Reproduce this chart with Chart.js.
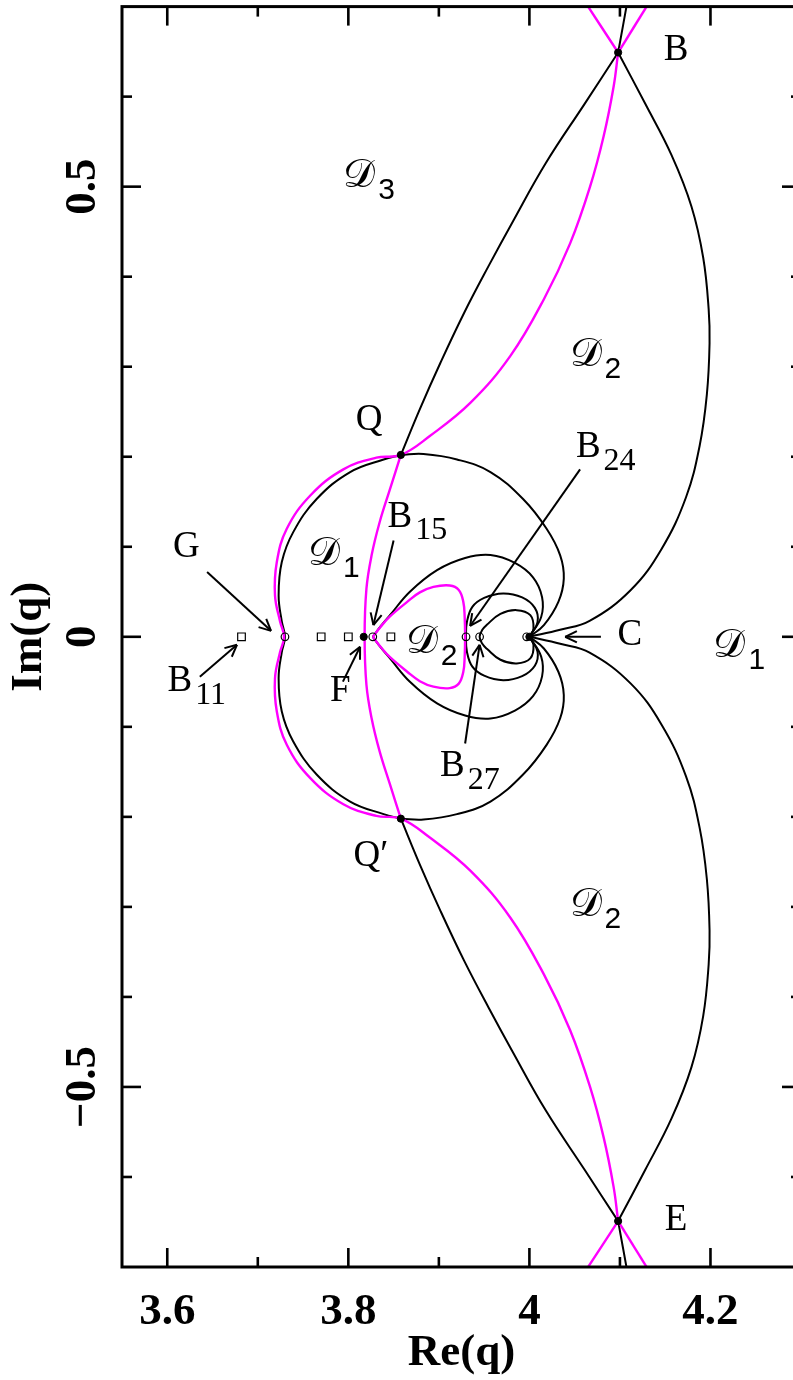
<!DOCTYPE html>
<html>
<head>
<meta charset="utf-8">
<script src="https://cdn.jsdelivr.net/npm/chart.js@4.4.1/dist/chart.umd.min.js"></script>
<style>
  html, body { margin: 0; padding: 0; background: #fff; overflow: hidden; }
  #wrap { width: 793px; height: 1380px; overflow: hidden; }
</style>
</head>
<body>
<div id="wrap"><canvas id="grafico" width="810" height="1380"></canvas></div>
<script>
// axis ticks
const xTickValues = [3.6, 3.8, 4.0, 4.2];
const xTickLabels = ['3.6', '3.8', '4', '4.2'];
const xMinorTicks = [3.7, 3.9, 4.1];
const yTickValues = [-0.5, 0, 0.5];
const yTickLabels = ['\u22120.5', '0', '0.5'];
const yMinorTicks = [-0.6, -0.4, -0.3, -0.2, -0.1, 0.1, 0.2, 0.3, 0.4, 0.6];

// black curves, [Re(q), Im(q)]
const blackTop = [[4.109, 0.71], [4.098, 0.649]];
const blackBottom = [[4.098, -0.649], [4.109, -0.71]];
const blackBQ = [[4.098, 0.649], [4.061, 0.592], [4.018, 0.526], [3.981, 0.460], [3.955, 0.412], [3.928, 0.360], [3.902, 0.305], [3.879, 0.253], [3.858, 0.202]];
const blackEQ = [[4.098, -0.649], [4.061, -0.592], [4.018, -0.526], [3.981, -0.460], [3.955, -0.412], [3.928, -0.360], [3.902, -0.305], [3.879, -0.253], [3.858, -0.202]];
const blackLeftLoop = [[3.858, 0.202], [3.839, 0.197], [3.802, 0.183], [3.765, 0.153], [3.739, 0.116], [3.7265, 0.083], [3.723, 0.046], [3.7265, 0.017], [3.730, 0],
    [3.7265, -0.017], [3.723, -0.046], [3.7265, -0.083], [3.739, -0.116], [3.765, -0.153], [3.802, -0.183], [3.839, -0.197], [3.858, -0.202]];
const blackQC = [[3.858, 0.202], [3.883, 0.203], [3.920, 0.197], [3.957, 0.183], [3.993, 0.153], [4.019, 0.120], [4.034, 0.0905], [4.038, 0.0646], [4.032, 0.0388], [4.016, 0.013], [4.0, 0]];
const blackQpC = [[3.858, -0.202], [3.883, -0.203], [3.920, -0.197], [3.957, -0.183], [3.993, -0.153], [4.019, -0.120], [4.034, -0.0905], [4.038, -0.0646], [4.032, -0.0388], [4.016, -0.013], [4.0, 0]];
const blackBC = [[4.098, 0.649], [4.128, 0.592], [4.157, 0.535], [4.179, 0.478], [4.192, 0.421], [4.198, 0.364], [4.199, 0.326], [4.196, 0.269], [4.188, 0.212], [4.173, 0.155], [4.146, 0.0976], [4.112, 0.052], [4.0665, 0.0176], [4.034, 0.0078], [4.0, 0]];
const blackEC = [[4.098, -0.649], [4.128, -0.592], [4.157, -0.535], [4.179, -0.478], [4.192, -0.421], [4.198, -0.364], [4.199, -0.326], [4.196, -0.269], [4.188, -0.212], [4.173, -0.155], [4.146, -0.0976], [4.112, -0.052], [4.0665, -0.0176], [4.034, -0.0078], [4.0, 0]];
const blackB15Up = [[3.827, 0], [3.836, 0.012], [3.846, 0.024], [3.868, 0.050], [3.898, 0.074], [3.929, 0.0875], [3.957, 0.0908], [3.984, 0.082], [4.004, 0.066], [4.014, 0.044], [4.013, 0.022], [4.0, 0]];
const blackB15Down = [[3.827, 0], [3.836, -0.012], [3.846, -0.024], [3.868, -0.050], [3.898, -0.074], [3.929, -0.0875], [3.957, -0.0908], [3.984, -0.082], [4.004, -0.066], [4.014, -0.044], [4.013, -0.022], [4.0, 0]];
const blackB24 = [[4.0, 0], [4.009, 0.0166], [4.006, 0.0321], [3.992, 0.0437], [3.971, 0.0482], [3.950, 0.0432], [3.937, 0.0332], [3.931, 0.0166], [3.930, 0],
    [3.931, -0.0166], [3.937, -0.0332], [3.950, -0.0432], [3.971, -0.0482], [3.992, -0.0437], [4.006, -0.0321], [4.009, -0.0166], [4.0, 0]];
const blackB27 = [[4.0, 0], [4.0045, 0.0092], [4.001, 0.024], [3.986, 0.0296], [3.968, 0.0255], [3.953, 0.0133], [3.948, 0.0078], [3.945, 0],
    [3.948, -0.0078], [3.953, -0.0133], [3.968, -0.0255], [3.986, -0.0296], [4.001, -0.024], [4.0045, -0.0092], [4.0, 0]];

// magenta curves
const magTopLeft = [[4.059, 0.709], [4.098, 0.649]];
const magTopRight = [[4.135, 0.709], [4.098, 0.649]];
const magBottomLeft = [[4.098, -0.649], [4.059, -0.709]];
const magBottomRight = [[4.098, -0.649], [4.135, -0.709]];
const magMain = [[4.098, 0.649], [4.093, 0.611], [4.082, 0.556], [4.067, 0.500], [4.045, 0.437], [4.016, 0.375], [3.979, 0.312], [3.935, 0.260], [3.890, 0.223], [3.858, 0.202],
    [3.831, 0.199], [3.7945, 0.186], [3.758, 0.157], [3.732, 0.120], [3.721, 0.083], [3.719, 0.046], [3.7246, 0.017], [3.729, 0],
    [3.7246, -0.017], [3.719, -0.046], [3.721, -0.083], [3.732, -0.120], [3.758, -0.157], [3.7945, -0.186], [3.831, -0.199],
    [3.858, -0.202], [3.890, -0.223], [3.935, -0.260], [3.979, -0.312], [4.016, -0.375], [4.045, -0.437], [4.067, -0.500], [4.082, -0.556], [4.093, -0.611], [4.098, -0.649]];
const magF = [[3.858, 0.202], [3.846, 0.164], [3.8345, 0.127], [3.8257, 0.0905], [3.820, 0.0535], [3.818, 0], [3.820, -0.0535], [3.8257, -0.0905], [3.8345, -0.127], [3.846, -0.164], [3.858, -0.202]];
const magTear = [[3.827, 0], [3.836, 0.0116], [3.846, 0.0227], [3.865, 0.0388], [3.879, 0.0493], [3.894, 0.0554], [3.912, 0.057], [3.922, 0.052], [3.927, 0.0388], [3.9285, 0.0221], [3.929, 0],
    [3.9285, -0.0221], [3.927, -0.0388], [3.922, -0.052], [3.912, -0.057], [3.894, -0.0554], [3.879, -0.0493], [3.865, -0.0388], [3.846, -0.0227], [3.836, -0.0116], [3.827, 0]];

// marked points
const filledDots = [[4.098, 0.649], [4.098, -0.649], [3.858, 0.202], [3.858, -0.202], [3.817, 0], [4.0, 0]];
const openCircles = [[3.730, 0], [3.827, 0], [3.930, 0], [3.945, 0], [3.997, 0]];
const openSquares = [[3.682, 0], [3.770, 0], [3.800, 0], [3.847, 0]];

// labels: [Re, Im, text, subscript, isRegion]
const labels = [
    [4.162, 0.651, 'B', '', false],
    [4.162, -0.648, 'E', '', false],
    [3.812, 0.511, '\u{1D49F}', '3', true],
    [4.062, 0.312, '\u{1D49F}', '2', true],
    [3.823, 0.240, 'Q', '', false],
    [4.065, 0.210, 'B', '24', false],
    [3.857, 0.133, 'B', '15', false],
    [3.773, 0.0914, '\u{1D49F}', '1', true],
    [3.621, 0.0997, 'G', '', false],
    [3.614, -0.0498, 'B', '11', false],
    [3.791, -0.061, 'F', '', false],
    [3.881, -0.0066, '\u{1D49F}', '2', true],
    [4.111, 0.0022, 'C', '', false],
    [4.221, -0.011, '\u{1D49F}', '1', true],
    [3.915, -0.144, 'B', '27', false],
    [3.825, -0.2436, 'Q\u2032', '', false],
    [4.062, -0.299, '\u{1D49F}', '2', true]
];

// arrows: [fromRe, fromIm, toRe, toIm]
const arrows = [
    [3.644, 0.072, 3.7146, 0.0066],
    [3.636, -0.0443, 3.677, -0.0089],
    [3.794, -0.0498, 3.813, -0.011],
    [3.850, 0.107, 3.8277, 0.013],
    [4.056, 0.186, 3.9345, 0.012],
    [3.929, -0.1185, 3.945, -0.0089],
    [4.079, 0, 4.0395, 0]
];

const MAGENTA = '#ff00ff';
const serifBold = { family: '"Liberation Serif", serif', size: 45, weight: 'bold' };

function curva(pontos, cor, largura) {
    return {
        data: pontos.map(p => ({ x: p[0], y: p[1] })),
        showLine: true,
        borderColor: cor,
        borderWidth: largura,
        pointRadius: 0,
        tension: 0.4,
        fill: false
    };
}

const molduraPlugin = {
    id: 'moldura',
    afterDatasetsDraw(chart) {
        const { ctx, chartArea: a, scales: { x, y } } = chart;
        ctx.save();
        ctx.strokeStyle = '#000';
        ctx.fillStyle = '#000';
        ctx.lineWidth = 3;
        ctx.strokeRect(a.left, a.top, a.right - a.left, a.bottom - a.top);
        const traco = (x1, y1, x2, y2) => { ctx.beginPath(); ctx.moveTo(x1, y1); ctx.lineTo(x2, y2); ctx.stroke(); };
        ctx.lineWidth = 2.6;
        xTickValues.forEach(v => { const p = x.getPixelForValue(v); traco(p, a.bottom, p, a.bottom - 19); traco(p, a.top, p, a.top + 19); });
        xMinorTicks.forEach(v => { const p = x.getPixelForValue(v); traco(p, a.bottom, p, a.bottom - 10); traco(p, a.top, p, a.top + 10); });
        yTickValues.forEach(v => { const p = y.getPixelForValue(v); traco(a.left, p, a.left + 19, p); traco(a.right, p, a.right - 19, p); });
        yMinorTicks.forEach(v => { const p = y.getPixelForValue(v); traco(a.left, p, a.left + 10, p); traco(a.right, p, a.right - 10, p); });

        // arrows
        ctx.lineWidth = 2;
        arrows.forEach(s => {
            const x1 = x.getPixelForValue(s[0]), y1 = y.getPixelForValue(s[1]);
            const x2 = x.getPixelForValue(s[2]), y2 = y.getPixelForValue(s[3]);
            const ang = Math.atan2(y2 - y1, x2 - x1);
            traco(x1, y1, x2, y2);
            traco(x2, y2, x2 - 13 * Math.cos(ang - 0.45), y2 - 13 * Math.sin(ang - 0.45));
            traco(x2, y2, x2 - 13 * Math.cos(ang + 0.45), y2 - 13 * Math.sin(ang + 0.45));
        });

        // labels
        ctx.textBaseline = 'middle';
        labels.forEach(l => {
            const px = x.getPixelForValue(l[0]), py = y.getPixelForValue(l[1]);
            ctx.font = l[4] ? '40px "DejaVu Serif", "DejaVu Sans", serif' : '37px "Liberation Serif", serif';
            ctx.textAlign = 'center';
            ctx.fillText(l[2], px, py);
            if (l[3]) {
                const w = ctx.measureText(l[2]).width;
                ctx.font = l[4] ? '30px "Liberation Sans", sans-serif' : '32px "Liberation Serif", serif';
                ctx.textAlign = 'left';
                ctx.fillText(l[3], px + w / 2 + 3, py + 14);
            }
        });
        ctx.restore();
    }
};

const ctx = document.getElementById('grafico').getContext('2d');
new Chart(ctx, {
    type: 'scatter',
    data: {
        datasets: [
            { data: filledDots.map(p => ({ x: p[0], y: p[1] })), pointRadius: 3.6, pointBackgroundColor: '#000', pointBorderColor: '#000', pointBorderWidth: 1 },
            { data: openCircles.map(p => ({ x: p[0], y: p[1] })), pointRadius: 3.8, pointBackgroundColor: 'rgba(0,0,0,0)', pointBorderColor: '#000', pointBorderWidth: 1.2 },
            { data: openSquares.map(p => ({ x: p[0], y: p[1] })), pointStyle: 'rect', pointRadius: 5.4, pointBackgroundColor: '#fff', pointBorderColor: '#000', pointBorderWidth: 1.2 },
            curva(magTopLeft, MAGENTA, 2.4),
            curva(magTopRight, MAGENTA, 2.4),
            curva(magBottomLeft, MAGENTA, 2.4),
            curva(magBottomRight, MAGENTA, 2.4),
            curva(magMain, MAGENTA, 2.4),
            curva(magF, MAGENTA, 2.4),
            curva(magTear, MAGENTA, 2.4),
            curva(blackTop, '#000', 2),
            curva(blackBottom, '#000', 2),
            curva(blackBQ, '#000', 2),
            curva(blackEQ, '#000', 2),
            curva(blackLeftLoop, '#000', 2),
            curva(blackQC, '#000', 2),
            curva(blackQpC, '#000', 2),
            curva(blackBC, '#000', 2),
            curva(blackEC, '#000', 2),
            curva(blackB15Up, '#000', 2),
            curva(blackB15Down, '#000', 2),
            curva(blackB24, '#000', 2),
            curva(blackB27, '#000', 2)
        ]
    },
    options: {
        responsive: false,
        animation: false,
        events: [],
        layout: { padding: { left: 0, top: 3, right: 9, bottom: 0 } },
        plugins: { legend: { display: false }, tooltip: { enabled: false } },
        scales: {
            x: {
                type: 'linear', min: 3.55, max: 4.3,
                grid: { display: false }, border: { display: false },
                afterBuildTicks: s => { s.ticks = xTickValues.map(v => ({ value: v })); },
                ticks: { callback: (v, i) => xTickLabels[i], font: serifBold, color: '#000', padding: 10, maxRotation: 0, autoSkip: false },
                title: { display: true, text: 'Re(q)', font: serifBold, color: '#000', padding: { top: 0, bottom: 0 } },
                afterFit: s => { s.height = 113; s.paddingLeft = 0; s.paddingRight = 0; }
            },
            y: {
                type: 'linear', min: -0.7, max: 0.7,
                grid: { display: false }, border: { display: false },
                afterBuildTicks: s => { s.ticks = yTickValues.map(v => ({ value: v })); },
                ticks: { callback: (v, i) => yTickLabels[i], font: serifBold, color: '#000', padding: -10, minRotation: 90, maxRotation: 90, crossAlign: 'center', autoSkip: false },
                title: { display: true, text: 'Im(q)', font: serifBold, color: '#000', padding: { top: 2, bottom: 0 } },
                afterFit: s => { s.width = 122; s.paddingTop = 0; s.paddingBottom = 0; }
            }
        }
    },
    plugins: [molduraPlugin]
});
</script>
</body>
</html>
